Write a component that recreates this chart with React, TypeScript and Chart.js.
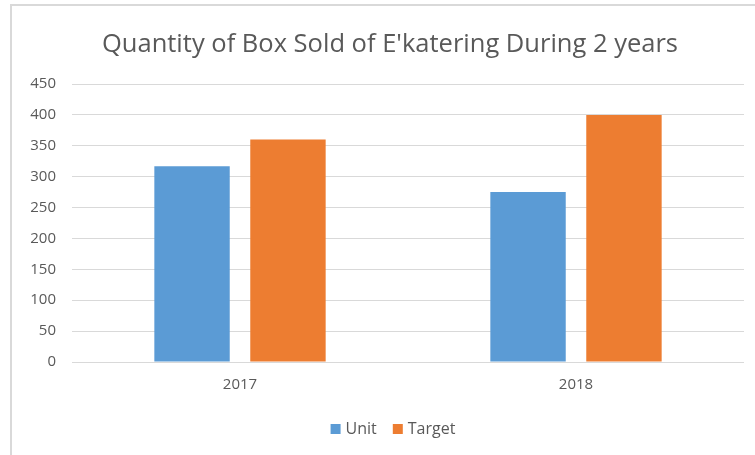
import React, { useEffect, useRef } from "react";
import { Chart, registerables } from "chart.js";

Chart.register(...registerables);

const categories = ["2017", "2018"];
const seriesNames = ["Unit", "Target"];
const unitValues = [317, 275];
const targetValues = [360, 400];
const seriesColors = ["#5B9BD5", "#ED7D31"];
const titleText = "Quantity of Box Sold of E'katering During 2 years";

const FONT = "'Open Sans', Lato, sans-serif";
const TEXT = "#595959";
const GRID = "#d9d9d9";

const framePlugin = {
  id: "frame",
  beforeDraw(chart: any) {
    const ctx = chart.ctx;
    ctx.save();
    ctx.fillStyle = "#ffffff";
    ctx.fillRect(0, 0, chart.width, chart.height);
    ctx.strokeStyle = GRID;
    ctx.lineWidth = 2;
    ctx.beginPath();
    ctx.moveTo(11, chart.height);
    ctx.lineTo(11, 5);
    ctx.lineTo(chart.width, 5);
    ctx.stroke();
    ctx.restore();
  },
  afterDraw(chart: any) {
    const ctx = chart.ctx;
    ctx.save();
    // title
    ctx.fillStyle = TEXT;
    ctx.font = `25.5px ${FONT}`;
    ctx.textAlign = "center";
    ctx.textBaseline = "middle";
    ctx.fillText(titleText, 390, 45);
    // legend
    ctx.font = `16px ${FONT}`;
    ctx.textAlign = "left";
    const box = 10;
    const gapText = 5;
    const gapItem = 16;
    const items = chart.data.datasets.map((d: any) => ({
      label: d.label,
      color: d.backgroundColor,
      w: box + gapText + ctx.measureText(d.label).width,
    }));
    const total = items.reduce((s: number, it: any) => s + it.w, 0) + gapItem * (items.length - 1);
    let x = 393 - total / 2;
    const y = 429;
    items.forEach((it: any) => {
      ctx.fillStyle = it.color;
      ctx.fillRect(x, y - box / 2, box, box);
      ctx.fillStyle = TEXT;
      ctx.fillText(it.label, x + box + gapText, y);
      x += it.w + gapItem;
    });
    ctx.restore();
  },
};

export default function App() {
  const ref = useRef<HTMLCanvasElement | null>(null);
  useEffect(() => {
    if (!ref.current) return;
    const chart = new Chart(ref.current, {
      type: "bar",
      data: {
        labels: categories,
        datasets: [
          { label: seriesNames[0], data: unitValues, backgroundColor: seriesColors[0] },
          { label: seriesNames[1], data: targetValues, backgroundColor: seriesColors[1] },
        ],
      },
      options: {
        animation: false,
        responsive: false,
        maintainAspectRatio: false,
        layout: { padding: { left: 0, right: 11, top: 84, bottom: 49 } },
        datasets: { bar: { categoryPercentage: 0.571, barPercentage: 0.786 } },
        plugins: {
          title: { display: false },
          legend: { display: false },
          tooltip: { enabled: false },
        },
        scales: {
          x: {
            grid: { display: false },
            border: { display: false },
            ticks: { color: TEXT, font: { family: FONT, size: 15 }, padding: 6 },
            afterFit(scale: any) {
              scale.height = 44;
            },
          },
          y: {
            min: 0,
            max: 450,
            ticks: {
              stepSize: 50,
              color: TEXT,
              font: { family: FONT, size: 15 },
              padding: 16,
            },
            grid: { color: GRID, lineWidth: 1, drawTicks: false },
            border: { display: false },
            afterFit(scale: any) {
              scale.width = 72;
            },
          },
        },
      },
      plugins: [framePlugin],
    });
    return () => chart.destroy();
  }, []);
  return (
    <div style={{ position: "fixed", left: 0, top: 0, width: 755, height: 455 }}>
      <canvas ref={ref} width={755} height={455} style={{ width: 755, height: 455 }} />
    </div>
  );
}
